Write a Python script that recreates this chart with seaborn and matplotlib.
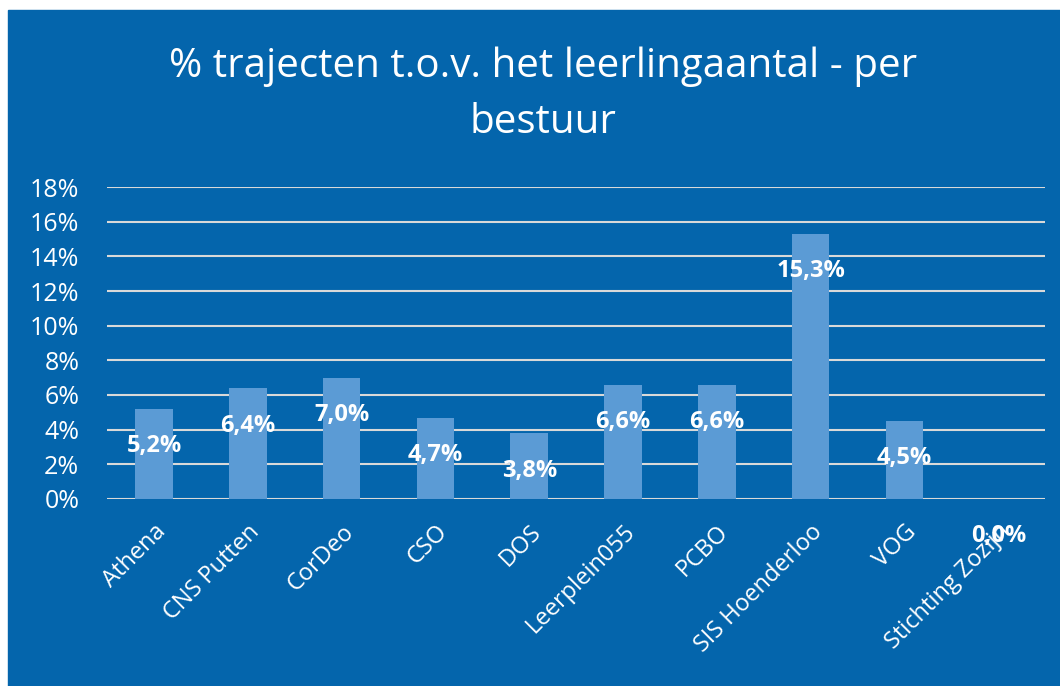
import matplotlib
matplotlib.use("Agg")
import matplotlib.pyplot as plt
import matplotlib.ticker as ticker
import pandas as pd
import seaborn as sns

# data
besturen = ["Athena", "CNS Putten", "CorDeo", "CSO", "DOS", "Leerplein055",
            "PCBO", "SIS Hoenderloo", "VOG", "Stichting Zozijn"]
percentages = [5.2, 6.4, 7.0, 4.7, 3.8, 6.6, 6.6, 15.3, 4.5, 0.0]
y_ticks = [0, 2, 4, 6, 8, 10, 12, 14, 16, 18]

BG = "#0465AC"
BAR = "#5B9BD5"
GRID = "#D9D9D9"

sns.set_style("white")
plt.rcParams["font.family"] = ["Open Sans", "DejaVu Sans"]

df = pd.DataFrame({"bestuur": besturen, "pct": percentages})

fig = plt.figure(figsize=(10.6, 6.86), dpi=100, facecolor="white")
# blue chart area with a thin white edge at top and left
fig.patches.append(plt.Rectangle((8 / 1060, 0), 1, 676 / 686,
                                 transform=fig.transFigure, color=BG, zorder=-10))

ax = fig.add_axes([0.101, 0.2726, 0.885, 0.4548])
ax.patch.set_alpha(0)

sns.barplot(data=df, x="bestuur", y="pct", color=BAR, width=0.4,
            saturation=1, linewidth=0, ax=ax, zorder=2)

ax.set_ylim(0, 18)
ax.set_xlim(-0.5, len(besturen) - 0.5)
ax.set_yticks(y_ticks)
ax.yaxis.set_major_formatter(ticker.FuncFormatter(lambda v, p: f"{v:.0f}%"))
ax.grid(axis="y", color=GRID, linewidth=1.5, zorder=1)
ax.set_axisbelow(True)
sns.despine(ax=ax, left=True, bottom=True)
ax.tick_params(axis="both", length=0, colors="white", labelsize=17)
ax.tick_params(axis="y", pad=20, labelsize=18)
ax.tick_params(axis="x", pad=15)
plt.setp(ax.get_xticklabels(), rotation=45, ha="right", rotation_mode="anchor")
ax.set_xlabel("")
ax.set_ylabel("")

# value labels just inside the top of each bar
for i, v in enumerate(percentages):
    ax.annotate(f"{v:.1f}%".replace(".", ","), xy=(i, v), xytext=(0, -27),
                textcoords="offset points", ha="center", va="center",
                color="white", fontsize=17, fontweight="bold", zorder=3)

fig.text(0.512, 1 - 95 / 686, "% trajecten t.o.v. het leerlingaantal - per\nbestuur",
         ha="center", va="center", color="white", fontsize=29, linespacing=1.5)

fig.savefig("out.png", dpi=100, facecolor=fig.get_facecolor())
